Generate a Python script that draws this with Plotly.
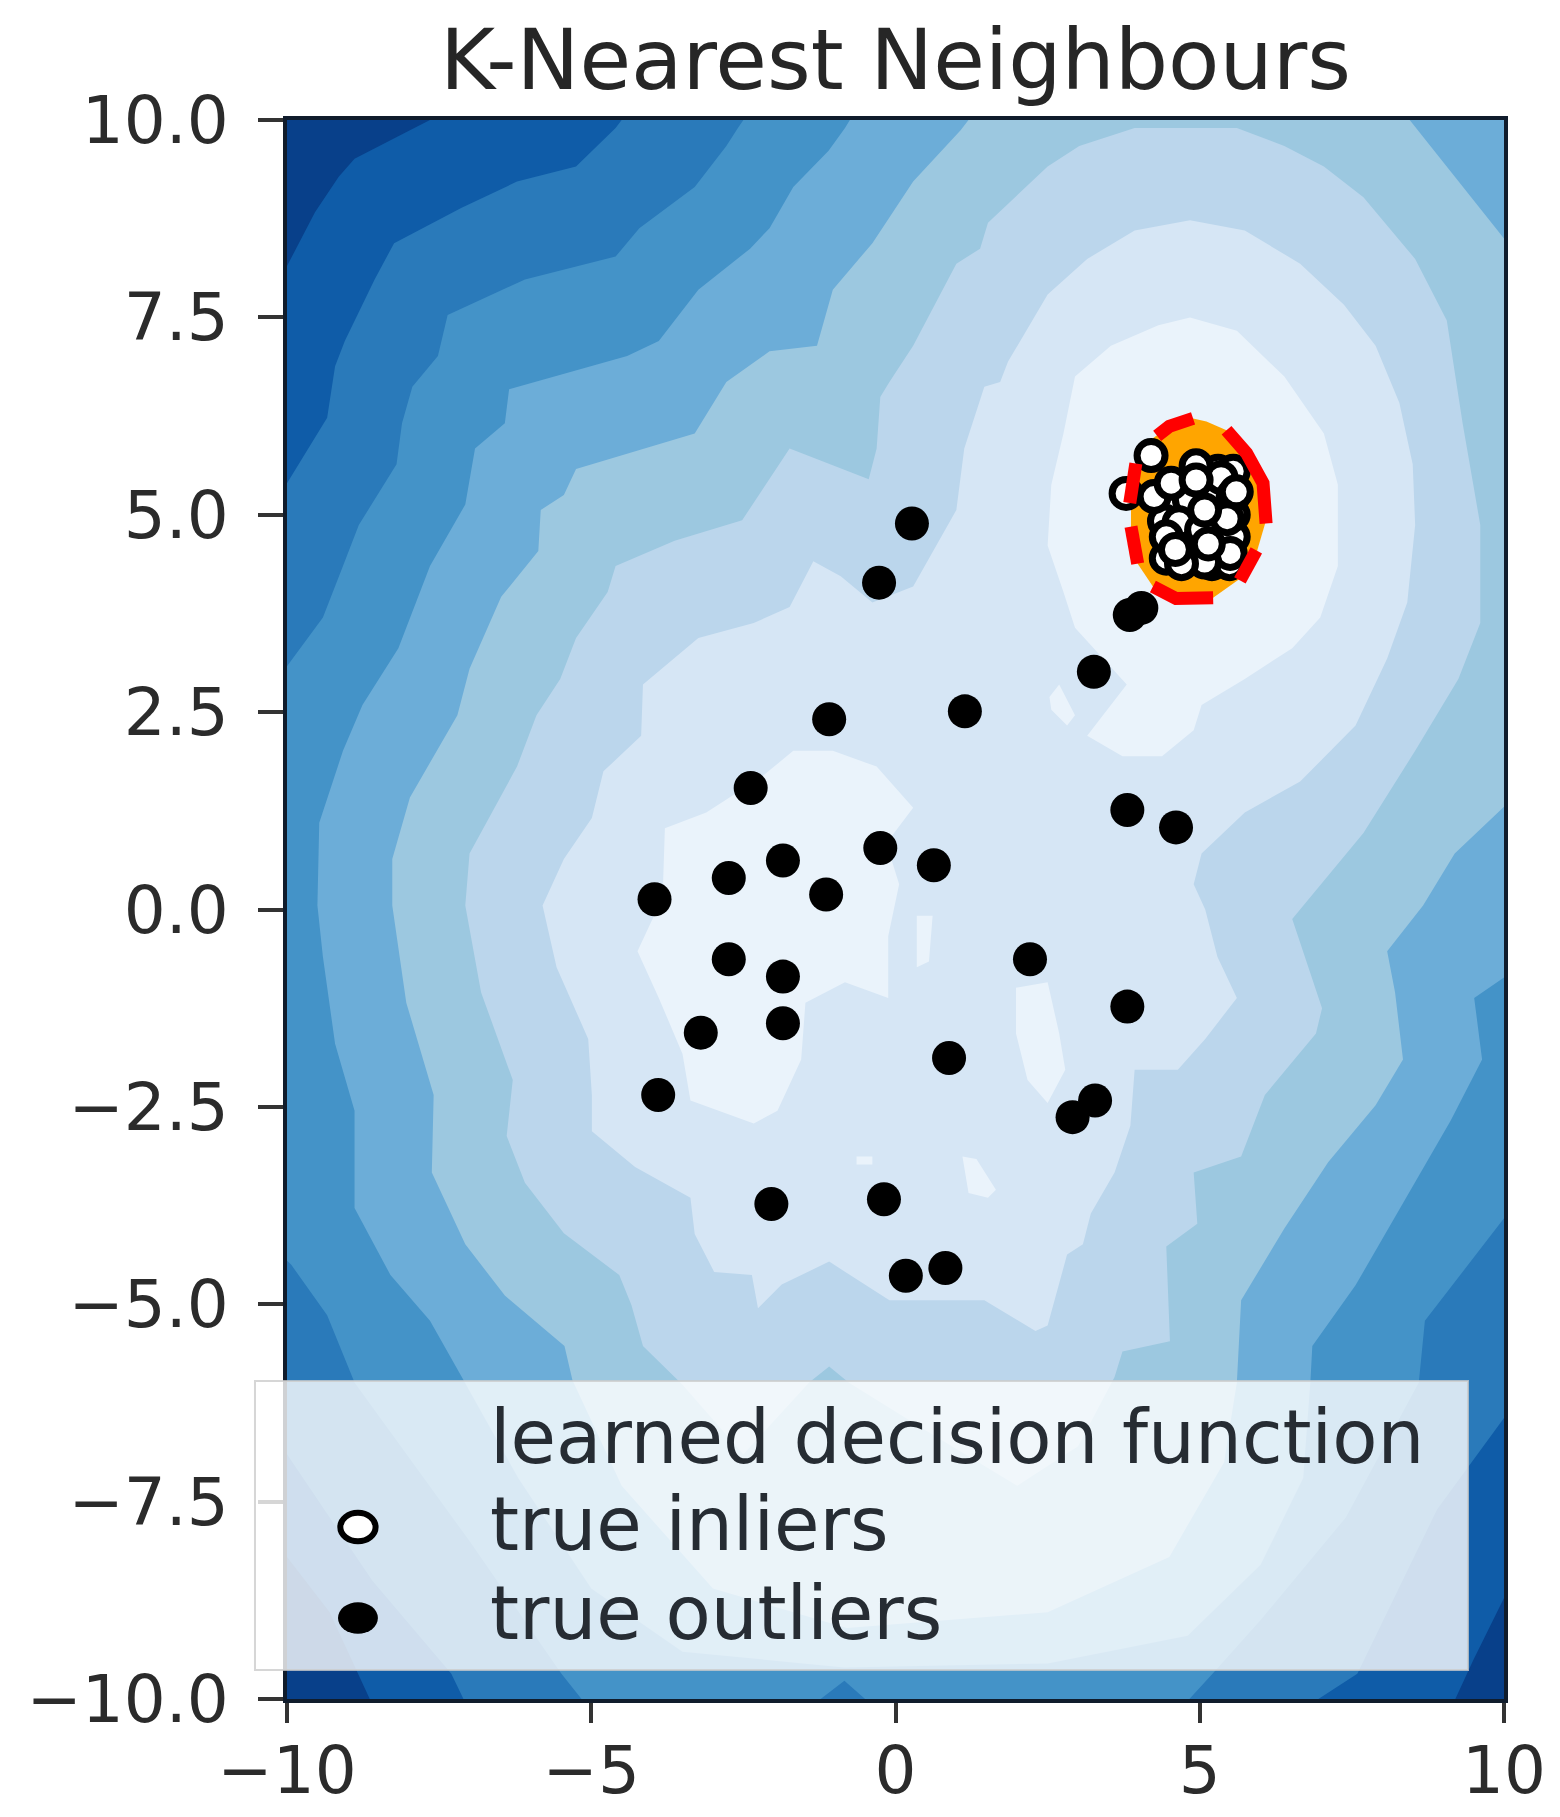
import plotly.graph_objects as go

# contour levels of the decision function (outermost first)
level_colors = ["#0f5ca8", "#2a7aba", "#4493c8", "#6cadd8", "#9cc8e0", "#bbd6ec", "#d6e6f5", "#eaf3fb"]
background_color = "#08408a"

level1_x = [-10, -9.54, -9.15, -8.89, -7.98, -7.65, 10, 10, 9.5, 9.2, -8.64, -8.83, -9.3, -10]
level1_y = [8.15, 8.83, 9.28, 9.51, 9.87, 10, 10, -8.72, -9.5, -10, -10, -9.68, -8.9, -8.2]

level2_x = [-10, -9.34, -9.21, -9.05, -8.56, -8.24, -7.13, -6.22, -5.25, -4.6, -4.5, 10, 10, 8.9, 7.59, 6.95,
            -7.1, -7.3, -8.6, -10]
level2_y = [5.4, 6.23, 6.88, 7.2, 7.98, 8.44, 8.89, 9.22, 9.41, 9.9, 10, 10, -6.44, -7.6, -9.68, -10,
            -10, -9.68, -8.5, -6.9]

level3_x = [-10, -9.41, -9.08, -8.82, -8.2, -8.11, -7.94, -7.52, -7.36, -6.09, -4.6, -4.21, -3.3, -2.78, -2.59,
            -2.5, 10, 10, 8.7, 8.6, 7.4, 6.0, 5.21, 4.83, -0.5, -0.84, -1.23, -5.16, -5.49, -7, -8.89, -9.34,
            -9.93, -10]
level3_y = [3.08, 3.7, 4.35, 4.87, 5.64, 6.16, 6.62, 7.01, 7.53, 7.98, 8.27, 8.63, 9.15, 9.67, 9.9,
            10, 10, -3.91, -5.21, -5.99, -7.7, -9.0, -9.68, -10, -10, -9.77, -10, -10, -9.68, -8, -5.99, -5.14,
            -4.5, -4.45]

level4_x = [-7.1, -7.65, -8.3, -8.89, -8.89, -9.21, -9.41, -9.5, -9.47, -9.08, -8.76, -8.17, -7.65, -7.07, -6.91,
            -6.42, -6.35, -4.41, -3.89, -3.24, -2.39, -2.07, -1.68, -1.1, -0.83, -0.75, 10, 10, 9.51, 9.64, 9.12,
            7.56, 6.85, 6.82, 6.7, 6.0, 4.8, 2.5, -0.84, -3.5, -5, -6.2]
level4_y = [-5.96, -5.21, -4.63, -3.78, -2.55, -1.7, -0.6, 0.05, 1.1, 2.01, 2.59, 3.31, 4.35, 5.13, 5.84,
            6.16, 6.59, 7.01, 7.2, 7.85, 8.37, 8.63, 9.15, 9.61, 9.9, 10, 10, -0.86, -1.12, -1.9, -2.68,
            -4.76, -5.53, -5.96, -7.2, -8.3, -9.2, -9.55, -9.6, -9.4, -8.6, -7.2]

level5_x = [-5.31, -5.44, -6.42, -7.07, -7.62, -7.59, -8.04, -8.27, -8.27, -7.98, -7.2, -7.0, -6.48, -5.87, -5.83,
            -5.45, -5.25, -3.89, -3.3, -2.78, -2.07, -1.29, -1.03, -0.38, 0.06, 0.29, 1.07, 1.2, 8.45, 9.19, 9.93,
            10, 10, 9.19, 8.67, 8.08, 8.21, 8.34, 7.89, 7.11, 6.39, 5.68, 5.61, 5.4, 4.5, 2.5, -0.8, -3, -4.5]
level5_y = [-5.96, -5.53, -4.89, -4.24, -3.33, -2.35, -1.18, 0.05, 0.64, 1.42, 2.46, 3.05, 3.96, 4.54, 5.06,
            5.25, 5.58, 5.9, 6.03, 6.68, 7.07, 7.14, 7.85, 8.44, 8.96, 9.22, 9.87, 10, 10, 9.28, 8.57,
            8.5, 1.3, 0.71, 0.05, -0.53, -1.05, -1.9, -2.48, -3.2, -4.04, -4.95, -5.99, -7, -8.2, -8.9, -9.1, -8.6, -7.3]

level6_x = [-3.5, -4.15, -4.34, -4.54, -5.45, -6.09, -6.39, -6.29, -6.81, -7.07, -7.0, -6.22, -5.9, -5.51, -5.25,
            -4.73, -4.6, -3.63, -2.52, -2.13, -1.74, -0.44, -0.31, -0.25, -0.1, 0.29, 1.0, 1.39, 1.52, 2.5, 3.02,
            3.93, 5.61, 6.39, 7.04, 7.69, 8.54, 9.06, 9.32, 9.61, 9.61, 9.25, 8.54, 7.69, 6.52, 7.01, 6.91, 6.07,
            5.68, 4.9, 4.96, 4.45, 4.51, 3.73, 3.6, 3.0, 2.0, 0.5, -0.77, -1.09, -1.42, -2.5]
level6_y = [-6.02, -5.53, -5.01, -4.63, -4.1, -3.46, -2.87, -2.16, -1.05, 0.05, 0.71, 1.81, 2.46, 2.92, 3.44,
            4.02, 4.35, 4.67, 4.93, 5.38, 5.84, 5.45, 5.84, 6.49, 6.68, 7.14, 8.18, 8.37, 8.7, 9.41, 9.67,
            9.9, 9.9, 9.67, 9.41, 9.02, 8.24, 7.46, 6.16, 4.87, 3.63, 2.92, 2.01, 0.97, -0.12, -1.25, -1.57, -2.35,
            -3.13, -3.33, -3.98, -4.27, -5.47, -5.6, -5.92, -6.8, -7.3, -6.6, -5.99, -5.79, -5.99, -6.9]

level7_x = [-1.09, -1.87, -2.26, -2.36, -2.98, -3.3, -3.37, -4.28, -4.99, -4.99, -5.05, -5.57, -5.8, -5.45, -4.99,
            -4.8, -4.18, -4.15, -3.24, -2.33, -1.74, -1.35, -0.9, -0.38, 0.29, 1.0, 1.13, 1.46, 1.72, 1.85, 2.5,
            3.15, 3.93, 4.84, 5.74, 6.65, 7.37, 7.89, 8.28, 8.5, 8.54, 8.41, 8.08, 7.56, 6.65, 5.74, 5.03, 4.9,
            5.09, 5.29, 5.61, 5.09, 4.64, 3.93, 3.86, 3.6, 3.21, 3.08, 2.82, 2.5, 2.3, 1.46, -0.1]
level7_y = [-4.46, -4.75, -5.05, -4.63, -4.59, -4.11, -3.65, -3.26, -2.81, -2.35, -1.64, -0.73, 0.05, 0.64, 1.16,
            1.75, 2.2, 2.85, 3.44, 3.63, 3.83, 4.41, 4.22, 3.89, 4.09, 5.06, 5.84, 6.62, 6.68, 6.94, 7.79,
            8.24, 8.6, 8.73, 8.6, 8.18, 7.66, 7.14, 6.42, 5.64, 4.87, 3.89, 3.18, 2.33, 1.62, 1.23, 0.71, 0.32,
            0, -0.6, -1.12, -1.64, -2.03, -2.03, -2.74, -3.33, -3.85, -4.24, -4.37, -5.27, -5.34, -4.95, -4.95]

# the lightest level is a set of separate islands, None starts the next one
level8_x = [2.5, 2.56, 2.76, 2.95, 3.54, 4.32, 4.84, 5.61, 6.39, 7.04, 7.27, 7.27, 6.98, 6.52, 5.74, 5.03, 4.9,
            4.38, 3.73, 3.15, 3.54, 3.8, 2.95, 2.76, None,
            2.53, 2.69, 2.95, 2.82, 2.56, None,
            -3.79, -3.11, -2.2, -1.68, -1.03, -0.31, 0.29, -0.15, 0.06, -0.12, -0.12, -0.83, -1.48, -1.55, -1.94,
            -2.33, -3.37, -3.5, -3.89, -4.24, -3.89, -3.82, None,
            0.35, 0.61, 0.55, 0.35, None,
            1.98, 2.5, 2.69, 2.79, 2.5, 2.17, 1.98, None,
            1.1, 1.33, 1.65, 1.52, 1.2, None,
            -0.64, -0.38, -0.38, -0.64]
level8_y = [4.61, 5.38, 6.03, 6.75, 7.14, 7.4, 7.5, 7.33, 6.75, 6.03, 5.38, 4.35, 3.7, 3.31, 2.92, 2.59, 2.27,
            1.94, 1.94, 2.2, 2.59, 2.85, 3.57, 4.02, None,
            2.69, 2.85, 2.46, 2.33, 2.53, None,
            1.03, 1.23, 1.68, 2.01, 2.01, 1.81, 1.29, 0.84, 0.32, -0.34, -1.12, -0.92, -1.18, -1.9, -2.55,
            -2.71, -2.42, -1.83, -1.12, -0.53, 0.05, 0.32, None,
            -0.08, -0.08, -0.66, -0.73, None,
            -0.99, -0.92, -1.57, -2.03, -2.45, -2.16, -1.57, None,
            -3.13, -3.16, -3.55, -3.65, -3.59, None,
            -3.13, -3.13, -3.23, -3.23]

# learned frontier
frontier_x = [4.89, 4.5, 4.23, 4.01, 3.9, 3.87, 3.87, 3.98, 4.23, 4.61, 5.22, 5.66, 5.93, 6.09, 6.04, 5.77, 5.44, 5.11]
frontier_y = [6.22, 6.12, 5.97, 5.65, 5.31, 5.1, 4.81, 4.38, 4.09, 3.94, 3.95, 4.19, 4.51, 4.93, 5.4, 5.78, 6.07, 6.18]
red_x = [4.89, 4.5, 4.3, None, 3.95, 3.87, 3.85, None, 3.87, 3.98, None, 4.23, 4.61, 5.22, None, 5.66, 5.93, None,
         6.09, 6.04, 5.77, 5.44]
red_y = [6.22, 6.12, 6.0, None, 5.65, 5.31, 5.15, None, 4.85, 4.38, None, 4.09, 3.94, 3.95, None, 4.17, 4.55, None,
         4.89, 5.4, 5.78, 6.07]

# drawn in this order, the ones at the end sit on top of the cluster
inliers_x = [4.8, 5.3, 4.75, 5.3, 4.85, 5.3, 5.15, 4.7, 5.3, 5.2, 5.55, 4.45, 5.55, 5.55, 5.35, 5.55, 5.6, 4.56, 4.83,
             4.42, 4.66, 4.45, 5.49, 5.5, 5.08, 5.03, 5.14, 4.94, 3.79, 4.2, 4.25, 4.7, 4.6, 4.53, 5.45, 5.08, 4.94]
inliers_y = [4.7, 5.2, 5.0, 4.75, 4.45, 4.55, 5.3, 5.3, 5.55, 4.38, 4.72, 4.45, 5.0, 5.55, 5.47, 5.24, 5.29, 5.14, 5.19,
             4.92, 4.9, 4.72, 4.38, 4.51, 4.4, 4.81, 4.63, 5.62, 5.27, 5.75, 5.23, 4.38, 4.56, 5.4, 4.95, 5.06, 5.44]

outliers_x = [0.27, -0.27, 3.85, 4.04, 3.26, 1.14, -1.09, -2.38, 3.81, 4.61, -0.25, 0.63, -1.85, -2.74, -1.14, -3.96,
              -2.74, 2.21, -1.85, 3.81, -1.85, -3.2, 0.88, -3.9, 3.28, 2.91, -0.19, -2.04, 0.82, 0.17]
outliers_y = [4.89, 4.14, 3.73, 3.82, 3.01, 2.51, 2.41, 1.54, 1.26, 1.04, 0.78, 0.56, 0.62, 0.4, 0.19, 0.13,
              -0.63, -0.63, -0.85, -1.23, -1.44, -1.56, -1.88, -2.35, -2.42, -2.63, -3.67, -3.73, -4.54, -4.64]

x_ticks = [-10, -5, 0, 5, 10]
x_tick_labels = ["\u221210", "\u22125", "0", "5", "10"]
y_ticks = [10, 7.5, 5, 2.5, 0, -2.5, -5, -7.5, -10]
y_tick_labels = ["10.0", "7.5", "5.0", "2.5", "0.0", "\u22122.5", "\u22125.0", "\u22127.5", "\u221210.0"]
legend_labels = ["learned decision function", "true inliers", "true outliers"]

fig = go.Figure()

levels = [
    (level1_x, level1_y), (level2_x, level2_y), (level3_x, level3_y), (level4_x, level4_y),
    (level5_x, level5_y), (level6_x, level6_y), (level7_x, level7_y), (level8_x, level8_y),
]
for (xs, ys), color in zip(levels, level_colors):
    fig.add_trace(go.Scatter(x=xs, y=ys, mode="lines", fill="toself", fillcolor=color,
                             line=dict(width=0), hoverinfo="skip", showlegend=False))

fig.add_trace(go.Scatter(x=frontier_x, y=frontier_y, mode="lines", fill="toself", fillcolor="#ffa500",
                         line=dict(width=0), hoverinfo="skip", showlegend=False))

fig.add_trace(go.Scatter(x=inliers_x, y=inliers_y, mode="markers", name=legend_labels[1], showlegend=False,
                         marker=dict(size=28, color="white", line=dict(color="black", width=7))))
fig.add_trace(go.Scatter(x=red_x, y=red_y, mode="lines", line=dict(color="#ff0000", width=13), hoverinfo="skip",
                         showlegend=False))
fig.add_trace(go.Scatter(x=outliers_x, y=outliers_y, mode="markers", name=legend_labels[2], showlegend=False,
                         marker=dict(size=34, color="black")))

# legend built by hand: plotly caps legend markers at 16px and this one needs twice that
shapes = [
    dict(type="rect", xref="paper", yref="paper", x0=-0.0263, x1=0.9704, y0=0.0184, y1=0.2014, layer="above",
         fillcolor="rgba(255,255,255,0.8)", line=dict(color="rgba(204,204,204,0.8)", width=2)),
    dict(type="circle", xref="paper", yref="paper", x0=0.0438, x1=0.0728, y0=0.0999, y1=0.1179, layer="above",
         fillcolor="white", line=dict(color="black", width=6)),
    dict(type="circle", xref="paper", yref="paper", x0=0.0419, x1=0.0747, y0=0.0413, y1=0.0613, layer="above",
         fillcolor="black", line=dict(width=0)),
]
label_rows = [0.1659, 0.1108, 0.0545]
annotations = [
    dict(text=label, xref="paper", yref="paper", x=0.1655, y=row, xanchor="left", yanchor="middle", showarrow=False,
         font=dict(size=74, color="#262c33"))
    for label, row in zip(legend_labels, label_rows)
]

axis_style = dict(showgrid=False, zeroline=False, showline=True, mirror=True, linecolor="#101c2c", linewidth=4,
                  ticks="outside", tickcolor="#333333", tickwidth=4, tickfont=dict(size=66, color="#2b2b2b"),
                  automargin=False)

# the page body adds 8px on the left and top, margins are set to land the axes where they belong
fig.update_layout(
    width=1560,
    height=1817,
    margin=dict(l=279, r=64, t=112, b=126),
    paper_bgcolor="white",
    plot_bgcolor=background_color,
    font=dict(family="DejaVu Sans"),
    title=dict(text="K-Nearest Neighbours", x=0.5, xref="paper", xanchor="center", y=0.9714, yanchor="middle",
               font=dict(size=84, color="#262626")),
    shapes=shapes,
    annotations=annotations,
    showlegend=False,
)
fig.update_xaxes(range=[-10, 10], tickvals=x_ticks, ticktext=x_tick_labels, ticklen=20, ticklabelstandoff=-9,
                 **axis_style)
fig.update_yaxes(range=[-10, 10], tickvals=y_ticks, ticktext=y_tick_labels, ticklen=25, ticklabelstandoff=16,
                 **axis_style)

fig.write_html("out.html")
